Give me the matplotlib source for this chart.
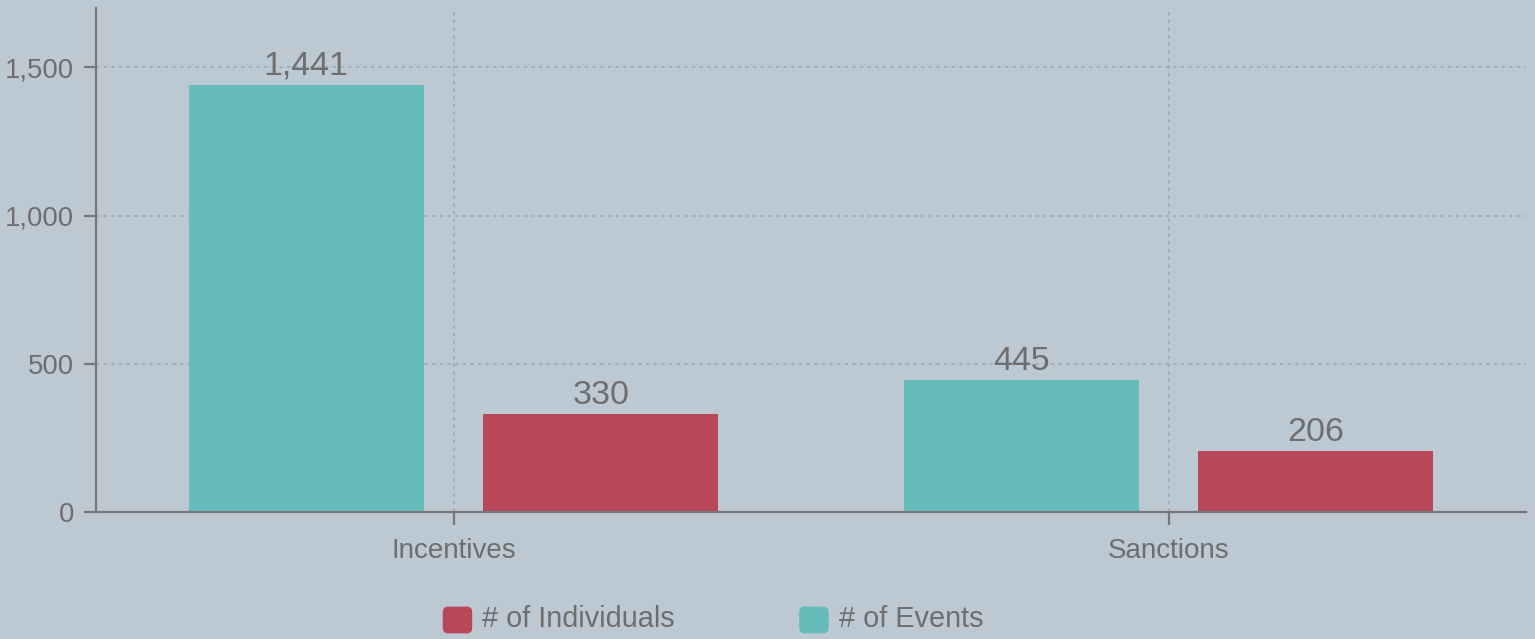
import matplotlib.pyplot as plt
from matplotlib.patches import FancyBboxPatch, Patch
from matplotlib.legend_handler import HandlerPatch
from matplotlib.ticker import FuncFormatter

categorias = ["Incentives", "Sanctions"]
eventos = [1441, 445]
individuos = [330, 206]

cor_fundo = "#BDC9D2"
cor_texto = "#6E6E6E"
cor_eventos = "#66BBBB"
cor_individuos = "#B8475A"

plt.rcParams["font.family"] = ["Liberation Sans", "DejaVu Sans"]


class HandlerArredondado(HandlerPatch):
    def create_artists(self, legend, orig_handle, xdescent, ydescent,
                       width, height, fontsize, trans):
        p = FancyBboxPatch((-xdescent, -ydescent - height * 0.12), width, height,
                           boxstyle="round,pad=0,rounding_size=4",
                           facecolor=orig_handle.get_facecolor(),
                           edgecolor="none", transform=trans)
        return [p]


fig = plt.figure(figsize=(15.35, 6.39), dpi=100, facecolor=cor_fundo)
ax = fig.add_axes([96 / 1535, 1 - 512 / 639, (1526 - 96) / 1535, (512 - 8) / 639])
ax.set_facecolor(cor_fundo)

x = list(range(len(categorias)))
largura = 0.329
desloc = 0.206

b1 = ax.bar([i - desloc for i in x], eventos, largura, color=cor_eventos, zorder=3)
b2 = ax.bar([i + desloc for i in x], individuos, largura, color=cor_individuos, zorder=3)

for barras, vals in ((b1, eventos), (b2, individuos)):
    for r, v in zip(barras, vals):
        ax.annotate(f"{v:,}", (r.get_x() + r.get_width() / 2, v),
                    xytext=(0, 7.5), textcoords="offset points",
                    ha="center", va="baseline", fontsize=24.5, color=cor_texto)

ax.set_xlim(-0.5, 1.5)
ax.set_ylim(0, 1700)
ax.set_xticks(x)
ax.set_xticklabels(categorias)
ax.set_yticks([0, 500, 1000, 1500])
ax.yaxis.set_major_formatter(FuncFormatter(lambda v, p: f"{int(v):,}"))

ax.grid(True, color="#9DA6AD", linestyle=(0, (2.2, 2.8)), linewidth=1.1, zorder=0)
for s in ("top", "right"):
    ax.spines[s].set_visible(False)
for s in ("left", "bottom"):
    ax.spines[s].set_color("#777777")
    ax.spines[s].set_linewidth(1.6)
    ax.spines[s].set_zorder(4)

ax.tick_params(axis="y", length=9, width=1.6, color="#777777", pad=7,
               labelsize=19.8, labelcolor=cor_texto)
ax.tick_params(axis="x", length=9, width=1.6, color="#777777", pad=10,
               labelsize=20, labelcolor=cor_texto)

handles = [Patch(facecolor=cor_individuos, label="# of Individuals"),
           Patch(facecolor=cor_eventos, label="# of Events")]
fig.legend(handles=handles, loc="center", bbox_to_anchor=(713 / 1535, 1 - 618 / 639),
           ncol=2, frameon=False, fontsize=20.8, labelcolor=cor_texto,
           handlelength=1.02, handleheight=1.05, handletextpad=0.35,
           columnspacing=4.3, handler_map={Patch: HandlerArredondado()})

fig.savefig("out.png", dpi=100, facecolor=cor_fundo)
